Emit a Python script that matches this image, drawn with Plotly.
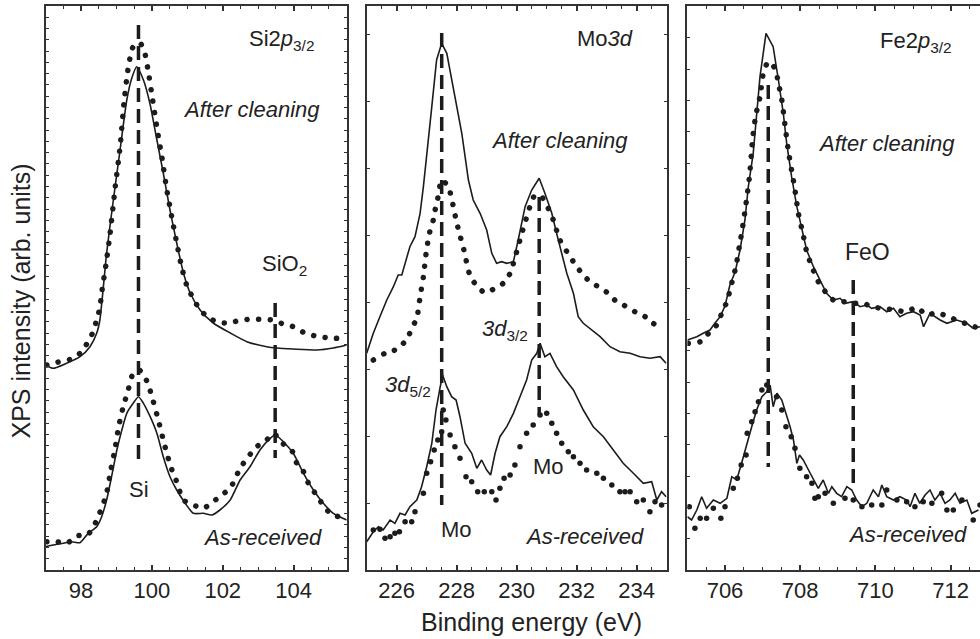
import plotly.graph_objects as go

# ---------------- Si 2p3/2 panel ----------------
si_clean_line_x = [97.00, 97.21, 97.59, 97.97, 98.25, 98.44, 98.53, 98.72, 98.91, 99.10, 99.29, 99.43, 99.57, 99.76, 99.94, 100.14, 100.32, 100.51, 100.70, 100.89, 101.08, 101.36, 101.73, 102.21, 102.68, 103.24, 103.53, 103.99, 104.66, 105.12, 105.50]
si_clean_line_y = [205, 201.7, 206.7, 213.3, 223.3, 236.7, 250, 316.7, 370, 420, 470, 491.7, 503.3, 490, 467, 430, 397, 360, 327, 297, 277, 260, 247, 237, 228.3, 223.3, 222, 221, 220, 222, 225]
si_clean_dot_x = [97.03, 97.40, 97.69, 97.97, 98.20, 98.34, 98.44, 98.53, 98.58, 98.70, 98.82, 98.96, 99.10, 99.21, 99.33, 99.47, 99.66, 99.80, 99.92, 100.02, 100.15, 100.28, 100.42, 100.56, 100.70, 100.84, 100.98, 101.27, 101.55, 101.83, 102.16, 102.44, 102.77, 103.10, 103.38, 103.71, 103.99, 104.28, 104.61, 104.94, 105.22]
si_clean_dot_y = [205, 208.3, 210.7, 216.7, 228.3, 238.3, 250, 262, 277, 305, 337, 382, 423, 467, 502, 523.3, 527.3, 516.7, 493.3, 470, 440, 413, 380, 353, 327, 303, 285, 265, 253.3, 248.3, 246.7, 249.3, 250.7, 250.7, 250, 246, 243.3, 237.7, 234, 232.3, 231.7]
si_asr_line_x = [97.00, 97.21, 97.50, 97.73, 97.97, 98.20, 98.44, 98.58, 98.72, 98.86, 99.01, 99.15, 99.29, 99.47, 99.62, 99.76, 99.95, 100.14, 100.32, 100.51, 100.70, 100.94, 101.17, 101.45, 101.69, 101.92, 102.21, 102.49, 102.77, 103.05, 103.34, 103.48, 103.71, 103.99, 104.28, 104.56, 104.84, 105.12, 105.50]
si_asr_line_y = [23.3, 25, 26.7, 28.3, 27.3, 36.7, 43.3, 53.3, 70, 93.3, 120, 140, 156.7, 166.7, 173.3, 166.7, 153.3, 136.7, 113.3, 93.3, 80, 66.7, 56.7, 56.7, 55, 60, 70, 90, 103.3, 120, 131.7, 135, 128.3, 116.7, 96.7, 80, 66.7, 56.7, 50]
si_asr_dot_x = [97.03, 97.31, 97.59, 97.92, 98.18, 98.36, 98.49, 98.63, 98.72, 98.84, 98.96, 99.06, 99.19, 99.33, 99.45, 99.64, 99.82, 99.95, 100.04, 100.18, 100.32, 100.42, 100.53, 100.68, 100.89, 101.17, 101.45, 101.73, 101.97, 102.21, 102.49, 102.72, 102.96, 103.24, 103.43, 103.69, 103.97, 104.09, 104.28, 104.42, 104.61, 104.80, 105.03, 105.27]
si_asr_dot_y = [28.3, 28.3, 26.7, 34.3, 35, 44, 54, 66.7, 76.7, 100, 121.7, 143.3, 163.3, 180, 195, 200, 191.7, 179.3, 168.3, 150, 130, 116.7, 103.3, 90, 70, 65, 61.7, 68.3, 75, 81.7, 101.7, 113.3, 123.3, 130, 136.7, 126.7, 118.3, 106.7, 98.3, 86.7, 76.7, 66.7, 56.7, 53.3]
si_marker_x = [99.62, 103.48]
si_marker_top = [545, 267]
si_marker_bottom = [107, 112]

# ---------------- Mo 3d panel ----------------
mo_clean_line_x = [225.00, 225.22, 225.44, 225.67, 225.89, 226.05, 226.17, 226.28, 226.44, 226.61, 226.78, 226.89, 227.02, 227.17, 227.33, 227.50, 227.67, 227.83, 228.00, 228.17, 228.28, 228.39, 228.55, 228.78, 229.00, 229.17, 229.33, 229.50, 229.67, 229.89, 230.05, 230.28, 230.50, 230.75, 230.94, 231.17, 231.33, 231.50, 231.67, 231.89, 232.05, 232.22, 232.50, 232.78, 233.11, 233.44, 233.78, 234.11, 234.44, 234.78, 234.98]
mo_clean_line_y = [216.7, 236.7, 253.3, 270, 283.3, 295, 295, 306.7, 323.3, 333.3, 356.7, 383.3, 423.3, 463.3, 510, 526.7, 516.7, 490, 463.3, 436.7, 413.3, 390, 370, 356.7, 340, 316.7, 306.7, 308.3, 306.7, 308.3, 330, 363.3, 380, 391.7, 376.7, 356.7, 336.7, 316.7, 296.7, 276.7, 253.3, 246.7, 240, 233.3, 223.3, 218.3, 216.7, 213.3, 211.7, 213.3, 206.7]
mo_clean_dot_x = [225.22, 225.61, 225.94, 226.33, 226.50, 226.67, 226.78, 226.89, 226.98, 227.09, 227.22, 227.28, 227.37, 227.50, 227.72, 227.89, 227.98, 228.09, 228.24, 228.42, 228.64, 228.94, 229.28, 229.55, 229.78, 230.00, 230.17, 230.31, 230.44, 230.61, 230.83, 231.05, 231.22, 231.44, 231.89, 232.17, 232.44, 232.72, 233.05, 233.33, 233.67, 233.94, 234.28, 234.55, 234.83]
mo_clean_dot_y = [210, 216.7, 220, 230, 241.7, 251.7, 273.3, 293.3, 316.7, 336.7, 350, 360, 371.7, 390, 383.3, 363.3, 350, 336.7, 320, 296.7, 285, 277.3, 281.7, 286.7, 296.7, 318.3, 336.7, 350.7, 363.3, 375, 373.3, 361.7, 350, 330, 308.3, 296.7, 288.3, 283.3, 276.7, 268.3, 263.3, 258.3, 253.3, 246.7, 241.7]
mo_asr_line_x = [225.00, 225.22, 225.39, 225.55, 225.78, 225.94, 226.11, 226.28, 226.44, 226.67, 226.83, 227.00, 227.17, 227.31, 227.44, 227.53, 227.67, 227.83, 227.98, 228.11, 228.28, 228.50, 228.67, 228.83, 229.00, 229.13, 229.28, 229.44, 229.67, 229.89, 230.11, 230.33, 230.50, 230.67, 230.78, 230.94, 231.11, 231.33, 231.55, 231.89, 232.22, 232.55, 232.89, 233.22, 233.55, 233.89, 234.22, 234.50, 234.67, 234.83, 234.98]
mo_asr_line_y = [28.3, 38.3, 43.3, 40, 50, 46.7, 56.7, 55, 63.3, 70, 83.3, 103.3, 126.7, 160, 181.7, 195, 183.3, 173.3, 170, 153.3, 126.7, 116.7, 101.7, 110, 100, 95, 116.7, 133.3, 143.3, 156.7, 173.3, 190, 210, 216.7, 226.7, 213.3, 216.7, 203.3, 193.3, 180, 160, 143.3, 133.3, 120, 106.7, 96.7, 86.7, 88.3, 70, 78.3, 73.3]
mo_asr_dot_x = [225.22, 225.44, 225.61, 225.78, 225.94, 226.09, 226.28, 226.50, 226.61, 226.89, 227.00, 227.13, 227.25, 227.37, 227.50, 227.55, 227.64, 227.78, 227.94, 228.11, 228.31, 228.50, 228.70, 228.92, 229.17, 229.31, 229.44, 229.58, 229.78, 229.94, 230.11, 230.33, 230.55, 230.78, 231.00, 231.17, 231.33, 231.50, 231.72, 231.89, 232.11, 232.33, 232.67, 232.89, 233.17, 233.44, 233.61, 233.78, 234.00, 234.22, 234.44, 234.61, 234.83]
mo_asr_dot_y = [40, 40.7, 31.7, 33.3, 36.7, 38.3, 48.3, 48.3, 58.3, 76.7, 96.7, 108.3, 120, 130, 138.3, 160, 150, 135, 123.3, 111.7, 93.3, 88.3, 78.3, 78.3, 78.3, 70, 81.7, 91.7, 95, 105, 123.3, 136.7, 145, 155, 156.7, 146.7, 136.7, 126.7, 118.3, 113.3, 106.7, 100, 96.7, 91.7, 85, 78.3, 78.3, 78.3, 68.3, 70, 58.3, 68.3, 65]
mo_marker_x = [227.5, 230.75]
mo_marker_top = [537, 373]
mo_marker_bottom = [65, 155]

# ---------------- Fe 2p3/2 panel ----------------
fe_clean_line_x = [705.00, 705.25, 705.42, 705.60, 705.73, 705.87, 706.00, 706.13, 706.27, 706.40, 706.53, 706.62, 706.75, 706.84, 706.93, 707.09, 707.28, 707.42, 707.55, 707.64, 707.77, 707.91, 708.04, 708.17, 708.35, 708.53, 708.70, 708.88, 709.06, 709.19, 709.41, 709.59, 709.77, 709.90, 710.12, 710.30, 710.48, 710.65, 710.83, 711.01, 711.19, 711.28, 711.45, 711.72, 711.90, 712.16, 712.43, 712.60, 712.78]
fe_clean_line_y = [230, 233.3, 236.7, 240, 246.7, 253.3, 264, 285, 298.3, 320, 350, 383.3, 416.7, 456.7, 493.3, 536.7, 523.3, 490, 456.7, 426.7, 393.3, 363.3, 340, 320, 303.3, 290, 276.7, 270, 271.7, 266.7, 268.3, 263.3, 265, 261.7, 263.3, 258.3, 261.7, 253.3, 256.7, 258.3, 255, 243.3, 256.7, 250, 246.7, 250, 246.7, 241.7, 243.3]
fe_clean_dot_x = [705.02, 705.34, 705.60, 705.82, 705.91, 706.05, 706.20, 706.29, 706.38, 706.47, 706.56, 706.65, 706.74, 706.82, 706.93, 707.02, 707.15, 707.33, 707.42, 707.51, 707.60, 707.68, 707.77, 707.86, 707.95, 708.07, 708.17, 708.31, 708.48, 708.70, 708.88, 709.15, 709.41, 709.68, 709.94, 710.21, 710.52, 710.83, 711.10, 711.36, 711.63, 711.94, 712.25, 712.52, 712.74]
fe_clean_dot_y = [226.7, 228.3, 238.3, 246.7, 256.7, 268.3, 290, 303.3, 323.3, 343.3, 366.7, 393.3, 433.3, 455, 473.3, 496.7, 508.3, 501.7, 486.7, 470, 443.3, 420, 400, 380, 356.7, 336.7, 318.3, 303.3, 288.3, 276.7, 270, 268.3, 266.7, 266.7, 262.7, 261.7, 260, 258.3, 262.7, 255, 257.3, 253.3, 248.3, 245, 241.7]
fe_asr_line_x = [705.00, 705.11, 705.25, 705.38, 705.51, 705.69, 705.87, 706.05, 706.18, 706.31, 706.44, 706.58, 706.71, 706.84, 706.98, 707.11, 707.20, 707.28, 707.38, 707.51, 707.62, 707.73, 707.82, 707.91, 707.98, 708.08, 708.22, 708.35, 708.48, 708.61, 708.75, 708.84, 708.97, 709.10, 709.24, 709.37, 709.50, 709.64, 709.77, 709.94, 710.08, 710.17, 710.30, 710.48, 710.65, 710.83, 710.92, 711.05, 711.18, 711.32, 711.45, 711.58, 711.72, 711.85, 711.98, 712.12, 712.25, 712.43, 712.56, 712.74]
fe_asr_line_y = [53.3, 50, 60, 73.3, 61.7, 70, 66.7, 71.7, 93.3, 90, 106.7, 126.7, 143.3, 160, 173.3, 178.3, 185, 163.3, 176.7, 170, 156.7, 143.3, 130, 106.7, 115, 110, 100, 90, 81.7, 90, 76.7, 83.3, 76.7, 73.3, 83.3, 80, 70, 63.3, 66.7, 80, 73.3, 85, 73.3, 70, 73.3, 70, 63.3, 76.7, 66.7, 75, 80, 70, 76.7, 66.7, 70, 76.7, 66.7, 70, 56.7, 60]
fe_asr_dot_x = [705.05, 705.20, 705.34, 705.51, 705.69, 705.89, 706.00, 706.22, 706.33, 706.43, 706.56, 706.59, 706.71, 706.80, 706.89, 706.98, 707.11, 707.37, 707.51, 707.62, 707.76, 707.86, 707.99, 708.17, 708.31, 708.39, 708.48, 708.66, 708.88, 709.19, 709.41, 709.64, 709.90, 710.17, 710.30, 710.57, 710.83, 711.05, 711.27, 711.50, 711.76, 711.90, 712.07, 712.30, 712.60, 712.78]
fe_asr_dot_y = [63.3, 41.7, 51.7, 51.7, 61.7, 51.7, 63.3, 81.7, 91.7, 105, 115, 136.7, 148.3, 158.3, 168.3, 180, 185, 173.3, 160, 143.3, 133.3, 121.7, 101.7, 93.3, 86.7, 71.7, 73.3, 76.7, 66.7, 71.7, 70, 63.3, 65, 65, 80, 70, 68.3, 63.3, 68.3, 66.7, 76.7, 60, 60, 70, 50, 65]
fe_marker_x = [707.15, 709.41]
fe_marker_top = [485, 290]
fe_marker_bottom = [103, 80]

x_ranges = [[97, 105.5], [225, 235], [705, 712.78]]
x_tickvals = [[98, 100, 102, 104], [226, 228, 230, 232, 234], [706, 708, 710, 712]]
y_range = [0, 564]

INK = "#1c1c1c"
AXC = "#333333"
FONT = "Liberation Sans, Arial, sans-serif"
DOT_DASH = "0.1px,11.5px"
VDASH = "14px,7px"

fig = go.Figure()

def add_panel(idx, cl_x, cl_y, cd_x, cd_y, al_x, al_y, ad_x, ad_y, mk_x, mk_top, mk_bot,
              clean_spline=True, asr_spline=False, asr_dot_markers=False):
    xa = "x" if idx == 1 else f"x{idx}"
    ya = "y" if idx == 1 else f"y{idx}"
    fig.add_trace(go.Scatter(x=cl_x, y=cl_y, mode="lines", xaxis=xa, yaxis=ya,
                             line=dict(color=INK, width=1.6, shape="spline" if clean_spline else "linear", smoothing=0.6)))
    fig.add_trace(go.Scatter(x=cd_x, y=cd_y, mode="lines", xaxis=xa, yaxis=ya,
                             line=dict(color=INK, width=5.5, dash=DOT_DASH, shape="spline", smoothing=0.6)))
    fig.add_trace(go.Scatter(x=al_x, y=al_y, mode="lines", xaxis=xa, yaxis=ya,
                             line=dict(color=INK, width=1.6, shape="spline" if asr_spline else "linear", smoothing=0.6)))
    if asr_dot_markers:
        fig.add_trace(go.Scatter(x=ad_x, y=ad_y, mode="markers", xaxis=xa, yaxis=ya,
                                 marker=dict(color=INK, size=5.5)))
    else:
        fig.add_trace(go.Scatter(x=ad_x, y=ad_y, mode="lines", xaxis=xa, yaxis=ya,
                                 line=dict(color=INK, width=5.5, dash=DOT_DASH, shape="spline", smoothing=0.6)))
    for mx, t, b in zip(mk_x, mk_top, mk_bot):
        fig.add_trace(go.Scatter(x=[mx, mx], y=[t, b], mode="lines", xaxis=xa, yaxis=ya,
                                 line=dict(color=INK, width=3.5, dash=VDASH)))

add_panel(1, si_clean_line_x, si_clean_line_y, si_clean_dot_x, si_clean_dot_y,
          si_asr_line_x, si_asr_line_y, si_asr_dot_x, si_asr_dot_y,
          si_marker_x, si_marker_top, si_marker_bottom, clean_spline=True, asr_spline=True)
add_panel(2, mo_clean_line_x, mo_clean_line_y, mo_clean_dot_x, mo_clean_dot_y,
          mo_asr_line_x, mo_asr_line_y, mo_asr_dot_x, mo_asr_dot_y,
          mo_marker_x, mo_marker_top, mo_marker_bottom, clean_spline=False, asr_dot_markers=True)
add_panel(3, fe_clean_line_x, fe_clean_line_y, fe_clean_dot_x, fe_clean_dot_y,
          fe_asr_line_x, fe_asr_line_y, fe_asr_dot_x, fe_asr_dot_y,
          fe_marker_x, fe_marker_top, fe_marker_bottom, clean_spline=False, asr_dot_markers=True)

x_domains = [[0.04663, 0.35378], [0.37418, 0.68031], [0.70143, 1.0]]
y_domain = [69 / 639, 633 / 639]
y_dticks = [11.28, 67, 31.3]

layout = dict(
    width=980, height=639, margin=dict(l=0, r=0, t=0, b=0),
    paper_bgcolor="white", plot_bgcolor="white", showlegend=False,
    font=dict(family=FONT, color="#222222", size=21),
)
for i in range(3):
    xk = "xaxis" if i == 0 else f"xaxis{i+1}"
    yk = "yaxis" if i == 0 else f"yaxis{i+1}"
    ya = "y" if i == 0 else f"y{i+1}"
    xa = "x" if i == 0 else f"x{i+1}"
    layout[xk] = dict(
        domain=x_domains[i], range=x_ranges[i], anchor=ya,
        tickmode="array", tickvals=x_tickvals[i], ticktext=[str(v) for v in x_tickvals[i]],
        ticks="inside", ticklen=5, tickwidth=1.5, tickcolor=AXC,
        showline=True, linecolor=AXC, linewidth=2, mirror="ticks",
        showgrid=False, zeroline=False,
        tickfont=dict(family=FONT, size=22, color="#222222"),
        minor=dict(dtick=0.5, tick0=x_ranges[i][0], ticks="inside", ticklen=3, tickwidth=1.2, tickcolor=AXC, showgrid=False),
    )
    layout[yk] = dict(
        domain=y_domain, range=y_range, anchor=xa,
        showticklabels=False, ticks="inside", ticklen=3, tickwidth=1.2, tickcolor=AXC,
        dtick=y_dticks[i], tick0=0,
        showline=True, linecolor=AXC, linewidth=2, mirror=("ticks" if i < 2 else False),
        showgrid=False, zeroline=False,
    )
fig.update_layout(**layout)

ann = []
def label(text, x, y, ref, size=22, xanchor="center"):
    xr = "x" if ref == 1 else f"x{ref}"
    yr = "y" if ref == 1 else f"y{ref}"
    ann.append(dict(text=text, x=x, y=y, xref=xr, yref=yr, showarrow=False,
                    xanchor=xanchor, yanchor="middle",
                    font=dict(family=FONT, size=size, color="#222222")))

label("Si2<i>p</i><sub>3/2</sub>", 102.68, 530, 1, xanchor="left")
label("<i>After cleaning</i>", 102.82, 461, 1)
label("SiO<sub>2</sub>", 103.05, 305, 1, xanchor="left")
label("Si", 99.64, 81, 1)
label("<i>As-received</i>", 103.12, 33, 1)

label("Mo<i>3d</i>", 232.94, 532, 2)
label("<i>After cleaning</i>", 231.42, 430, 2)
label("<i>3d</i><sub>3/2</sub>", 228.78, 240, 2, xanchor="left")
label("<i>3d</i><sub>5/2</sub>", 225.55, 184, 2, xanchor="left")
label("Mo", 231.05, 104, 2)
label("Mo", 228.0, 41, 2)
label("<i>As-received</i>", 232.25, 34, 2)

label("Fe2<i>p</i><sub>3/2</sub>", 710.08, 528, 3, xanchor="left")
label("<i>After cleaning</i>", 710.30, 427, 3)
label("FeO", 709.79, 318, 3, size=23)
label("<i>As-received</i>", 710.85, 36, 3)

ann.append(dict(text="XPS intensity (arb. units)", x=20 / 980, y=(639 - 301.5) / 639,
                xref="paper", yref="paper", showarrow=False, textangle=-90,
                xanchor="center", yanchor="middle",
                font=dict(family=FONT, size=25, color="#222222")))
ann.append(dict(text="Binding energy (eV)", x=531.7 / 980, y=(639 - 622) / 639,
                xref="paper", yref="paper", showarrow=False,
                xanchor="center", yanchor="middle",
                font=dict(family=FONT, size=25, color="#222222")))
fig.update_layout(annotations=ann)

post = """
var gd = document.getElementById('{plot_id}');
function roundDots(){
  gd.querySelectorAll('path.js-line').forEach(function(p){
    var d = p.style.strokeDasharray || '';
    if (d.indexOf('0.1') === 0) { p.style.strokeLinecap = 'round'; }
  });
}
roundDots();
gd.on('plotly_afterplot', roundDots);
"""

fig.write_html("out.html", post_script=post)
